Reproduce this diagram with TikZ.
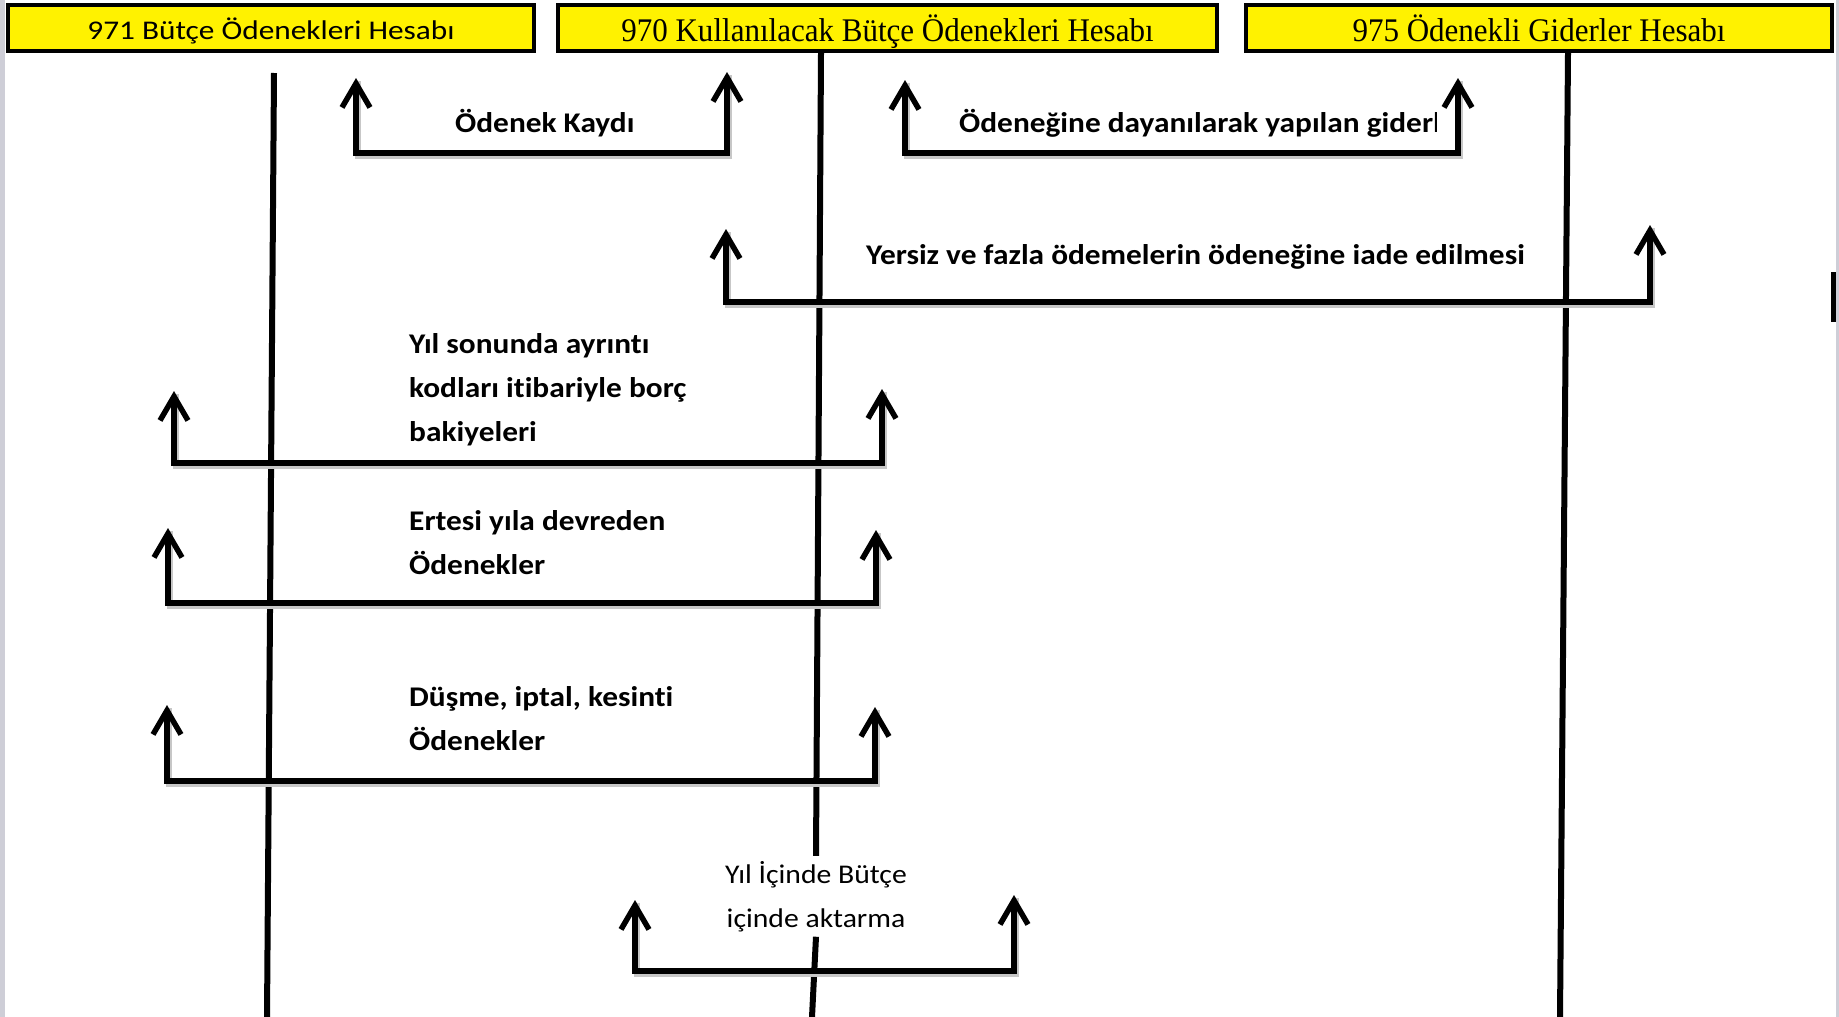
\documentclass[tikz,border=0pt]{standalone}
\usepackage{fontspec}
\setmainfont[FakeStretch=1.1,Ligatures=NoCommon]{Carlito}
\newfontfamily\sanshead[FakeStretch=1.16,Ligatures=NoCommon]{Carlito}
\newfontfamily\serifhead[FakeStretch=0.94]{Liberation Serif}
\usetikzlibrary{arrows.meta}

\begin{document}
\begin{tikzpicture}[
      x=1pt, y=-1pt,
      every node/.style = {inner sep=0pt, font=\fontsize{28.5}{44}\selectfont\bfseries},
      account/.style = {draw=black, fill=yellow, line width=4pt, minimum height=46pt,
                        text height=23pt, text depth=0pt,
                        font=\sanshead\fontsize{27}{30}\selectfont},
      serifaccount/.style = {account, text height=26pt, font=\serifhead\fontsize{33}{37}\selectfont},
      tline/.style = {draw, line width=6pt},
      bracket/.style = {draw, line width=5.5pt,
                        {Straight Barb[length=24pt,width=28pt]}-{Straight Barb[length=24pt,width=28pt]},
                        preaction={draw=black!22, -, line width=6pt, transform canvas={shift={(1.5pt,-3pt)}}}},
      lbl/.style = {anchor=base west, align=left},
      edge/.style = {fill=blue!10!gray!35}
    ]
    \useasboundingbox (0,0) rectangle (1839,1017);
    \fill[edge] (0,0) rectangle (5,1017);
    \fill[edge] (1836,0) rectangle (1839,1017);
    \fill (1831,272) rectangle (1836,322);

    % account heads
    \node (b971) at (271,28)    [account, minimum width=526pt]      {971 Bütçe Ödenekleri Hesabı};
    \node (b970) at (887.5,28)  [serifaccount, minimum width=659pt] {970 Kullanılacak Bütçe Ödenekleri Hesabı};
    \node (b975) at (1539,28)   [serifaccount, minimum width=586pt] {975 Ödenekli Giderler Hesabı};

    % labels (multi-line ones sit on their last baseline)
    \node (kaydi)    at (455,132) [lbl] {Ödenek Kaydı};
    \begin{scope}
      \clip (0,0) rectangle (1436,1017);
      \node (gider)  at (959,132) [lbl] {Ödeneğine dayanılarak yapılan giderler};
    \end{scope}
    \node (yersiz)   at (866,264) [lbl] {Yersiz ve fazla ödemelerin ödeneğine iade edilmesi};
    \node (bakiye)   at (409,441) [lbl] {Yıl sonunda ayrıntı\\kodları itibariyle borç\\bakiyeleri};
    \node (devreden) at (409,574) [lbl] {Ertesi yıla devreden\\Ödenekler};
    \node (iptal)    at (409,750) [lbl] {Düşme, iptal, kesinti\\Ödenekler};
    \node (aktarma)  at (816,927) [anchor=base, align=center, inner sep=5pt,
                                   font=\normalfont\fontsize{27}{44}\selectfont] {Yıl İçinde Bütçe\\içinde aktarma};

    % account lines
    \coordinate (c971top) at (274,73);
    \coordinate (c971bot) at (267,1017);
    \coordinate (c970top) at (821,53);
    \coordinate (c970bot) at (812,1017);
    \coordinate (c975top) at (1568,53);
    \coordinate (c975bot) at (1560,1017);

    \draw[tline] (c971top) -- (c971bot);
    \draw[tline] (c970top) -- (aktarma.north);
    \draw[tline] (aktarma.south) -- (c970bot);
    \draw[tline] (c975top) -- (c975bot);

    % brackets: left tip, right tip, base line
    \coordinate (kaydiL) at (356,78);     \coordinate (kaydiR) at (727,72);     \coordinate (kaydiB) at (0,153);
    \coordinate (giderL) at (905,80);     \coordinate (giderR) at (1458,78);    \coordinate (giderB) at (0,153);
    \coordinate (yersizL) at (726,229);   \coordinate (yersizR) at (1650,225); \coordinate (yersizB) at (0,302);
    \coordinate (bakiyeL) at (174,391);   \coordinate (bakiyeR) at (882,389);   \coordinate (bakiyeB) at (0,463);
    \coordinate (devredenL) at (168,528); \coordinate (devredenR) at (876,530); \coordinate (devredenB) at (0,603);
    \coordinate (iptalL) at (167,705);    \coordinate (iptalR) at (875,707);    \coordinate (iptalB) at (0,781);
    \coordinate (aktarmaL) at (635,900);  \coordinate (aktarmaR) at (1014,895); \coordinate (aktarmaB) at (0,971);

    \draw[bracket] (kaydiL) -- (kaydiL |- kaydiB) -- (kaydiR |- kaydiB) -- (kaydiR);
    \draw[bracket] (giderL) -- (giderL |- giderB) -- (giderR |- giderB) -- (giderR);
    \draw[bracket] (yersizL) -- (yersizL |- yersizB) -- (yersizR |- yersizB) -- (yersizR);
    \draw[bracket] (bakiyeL) -- (bakiyeL |- bakiyeB) -- (bakiyeR |- bakiyeB) -- (bakiyeR);
    \draw[bracket] (devredenL) -- (devredenL |- devredenB) -- (devredenR |- devredenB) -- (devredenR);
    \draw[bracket] (iptalL) -- (iptalL |- iptalB) -- (iptalR |- iptalB) -- (iptalR);
    \draw[bracket] (aktarmaL) -- (aktarmaL |- aktarmaB) -- (aktarmaR |- aktarmaB) -- (aktarmaR);

  \end{tikzpicture}
\end{document}
